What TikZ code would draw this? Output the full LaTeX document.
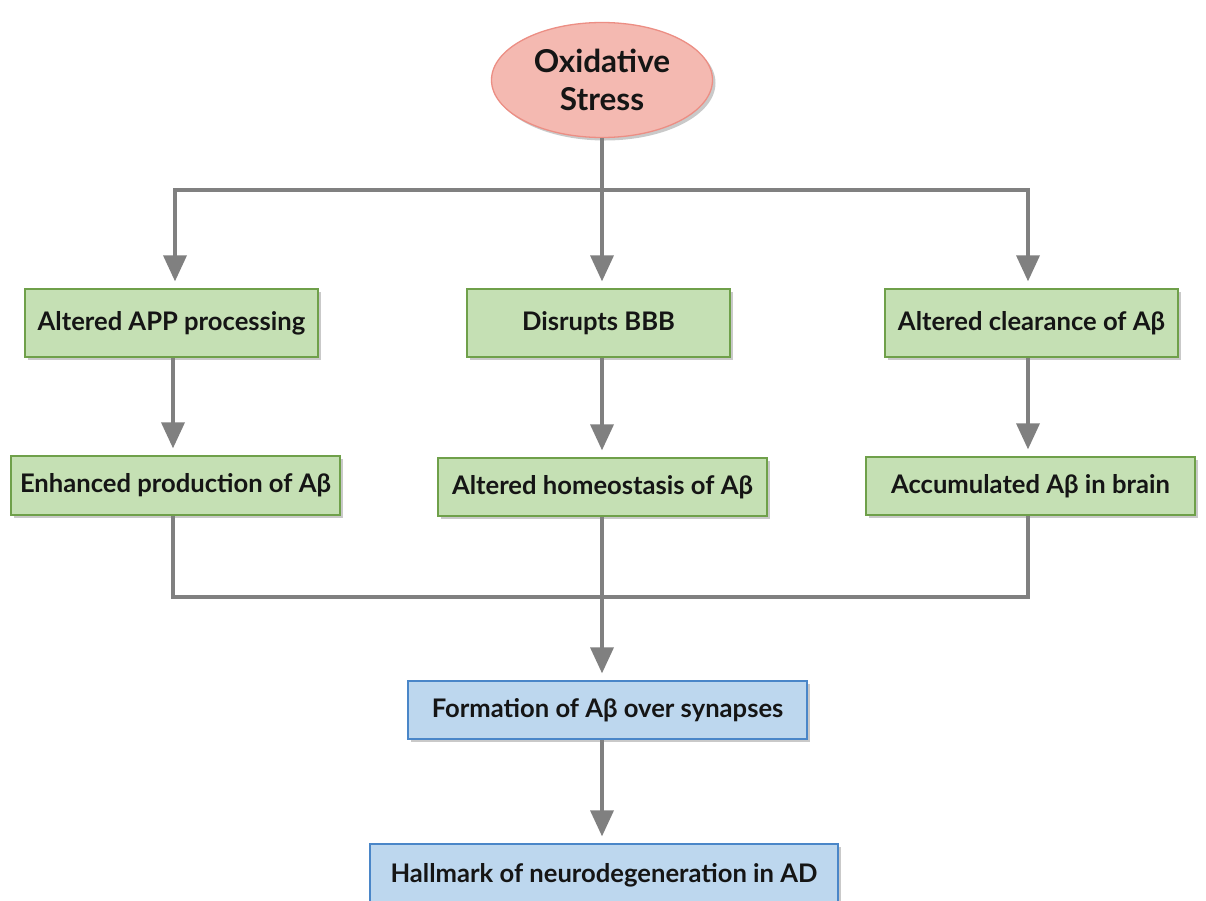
\documentclass[tikz,border=0pt]{standalone}
\usepackage{fontspec}
\setmainfont{Lato}
\usetikzlibrary{shapes.geometric,arrows.meta,shadows}
\definecolor{greenfill}{HTML}{C5E0B4}
\definecolor{greenline}{HTML}{6FA04A}
\definecolor{bluefill}{HTML}{BDD7EE}
\definecolor{blueline}{HTML}{4A86C8}
\definecolor{redfill}{HTML}{F4B9B1}
\definecolor{redline}{HTML}{EC8E84}
\definecolor{linkgray}{HTML}{808080}
\definecolor{inktext}{HTML}{151515}
\begin{document}
\begin{tikzpicture}[x=1pt,y=-1pt,
  boxbase/.style={rectangle, inner sep=0pt, line width=1.3pt, text=inktext,
    font=\fontsize{25.6}{30}\selectfont\bfseries,
    drop shadow={shadow xshift=3pt, shadow yshift=-3pt, opacity=0.35, fill=black!60}},
  greenbox/.style={boxbase, fill=greenfill, draw=greenline},
  bluebox/.style={boxbase, fill=bluefill, draw=blueline},
  link/.style={draw=linkgray, line width=3.6pt},
  arr/.style={link, -{Triangle[length=26pt,width=23pt]}, shorten >=7pt}]
\useasboundingbox (0,0) rectangle (1206,900);
\fill[white] (0,0) rectangle (1206,900);

% top cause
\node[ellipse, fill=redfill, draw=redline, line width=1.3pt, minimum width=221pt, minimum height=115pt,
  inner sep=0pt, align=center, text=inktext, font=\fontsize{31.5}{38}\selectfont\bfseries,
  drop shadow={shadow xshift=3pt, shadow yshift=-3pt, opacity=0.35, fill=black!60}]
  (ox) at (602,80) {Oxidative\\Stress};

% first row
\node[greenbox, minimum width=293pt, minimum height=68pt] (a1) at (171.5,323) {Altered APP processing};
\node[greenbox, minimum width=263pt, minimum height=68pt] (b1) at (598.5,323) {Disrupts BBB};
\node[greenbox, minimum width=293pt, minimum height=68pt] (c1) at (1031.5,323) {Altered clearance of Aβ};

% second row
\node[greenbox, minimum width=329pt, minimum height=59pt] (a2) at (175.5,485.5) {Enhanced production of Aβ};
\node[greenbox, minimum width=329pt, minimum height=58pt] (b2) at (602.5,487) {Altered homeostasis of Aβ};
\node[greenbox, minimum width=329pt, minimum height=58pt] (c2) at (1030.5,486) {Accumulated Aβ in brain};

% outcome
\node[bluebox, minimum width=399pt, minimum height=58pt] (fo) at (607.5,710) {Formation of Aβ over synapses};
\node[bluebox, minimum width=468pt, minimum height=62pt] (hm) at (604,875) {Hallmark of neurodegeneration in AD};

% columns of the connectors
\coordinate (xl) at (173,0);
\coordinate (xc) at (602,0);
\coordinate (xr) at (1028,0);

% split bus
\coordinate (sc) at (602,190);
\coordinate (sl) at (175,190);
\coordinate (sr) at (1028,190);
\draw[link] (ox.south) -- (sc);
\draw[link, line cap=rect] (sl) -- (sr);
\draw[arr] (sl) -- (sl |- a1.north);
\draw[arr] (sc) -- (sc |- b1.north);
\draw[arr] (sr) -- (sr |- c1.north);

% row links
\draw[arr] (xl |- a1.south) -- (xl |- a2.north);
\draw[arr] (xc |- b1.south) -- (xc |- b2.north);
\draw[arr] (xr |- c1.south) -- (xr |- c2.north);

% merge bus
\coordinate (ml) at (173,597);
\coordinate (mc) at (602,597);
\coordinate (mr) at (1028,597);
\draw[link] (ml |- a2.south) -- (ml);
\draw[link] (mc |- b2.south) -- (mc);
\draw[link] (mr |- c2.south) -- (mr);
\draw[link, line cap=rect] (ml) -- (mr);
\draw[arr] (mc) -- (mc |- fo.north);
\draw[arr] (mc |- fo.south) -- (mc |- hm.north);
\end{tikzpicture}
\end{document}
